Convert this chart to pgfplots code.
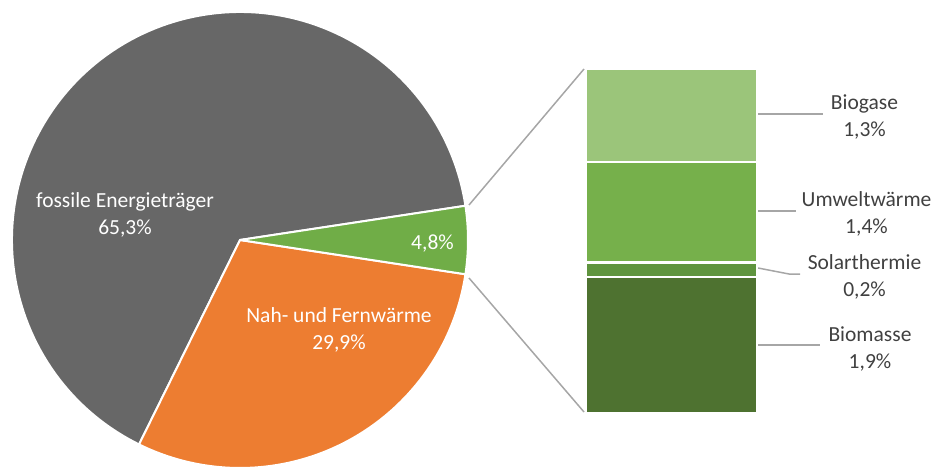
\documentclass[border=0pt]{standalone}
\usepackage{fontspec}
\setmainfont{Carlito}
\usepackage{pgfplots}
\pgfplotsset{compat=1.18}
\definecolor{fossgray}{RGB}{103,103,103}
\definecolor{nahorange}{RGB}{237,125,49}
\definecolor{erngreen}{RGB}{112,173,71}
\definecolor{biogas}{RGB}{155,197,122}
\definecolor{umwelt}{RGB}{118,176,75}
\definecolor{solar}{RGB}{95,148,62}
\definecolor{biomasse}{RGB}{78,114,48}
\definecolor{linegray}{RGB}{166,166,166}
\definecolor{labeltext}{RGB}{64,64,64}
\tikzset{lbl/.style={font=\fontsize{21.5}{27}\selectfont, align=center, inner sep=0pt}}

\begin{document}
\begin{tikzpicture}
% shares of the pie (percent)
\pgfmathsetmacro\pfoss{65.3}
\pgfmathsetmacro\pnah{29.9}
\pgfmathsetmacro\pern{4.8}
\pgfmathsetmacro\aA{\pern*3.6/2}
\pgfmathsetmacro\aB{-\aA-\pnah*3.6}
\pgfmathsetmacro\aC{\aB-\pfoss*3.6}

\begin{axis}[
  at={(0,0)}, anchor=south west,
  width=936pt, height=470pt, scale only axis,
  xmin=0, xmax=936, ymin=0, ymax=470, y dir=reverse,
  hide axis, clip=false,
]
% pie wedges
\filldraw[fill=fossgray, draw=white, line width=2pt, line join=round]
  (axis cs:240,240) -- ++(\aB:228pt) arc[start angle=\aB, end angle=\aC, radius=228pt] -- cycle;
\filldraw[fill=nahorange, draw=white, line width=2pt, line join=round]
  (axis cs:240,240) -- ++(-\aA:228pt) arc[start angle=-\aA, end angle=\aB, radius=228pt] -- cycle;
\filldraw[fill=erngreen, draw=white, line width=2pt, line join=round]
  (axis cs:240,240) -- ++(\aA:228pt) arc[start angle=\aA, end angle=-\aA, radius=228pt] -- cycle;

% connectors pie -> bar
\addplot[linegray, line width=1.5pt] coordinates {(469,205) (584,69)};
\addplot[linegray, line width=1.5pt] coordinates {(469,278) (584,412)};

% leader lines
\addplot[linegray, line width=1.5pt] coordinates {(758,114) (823,114)};
\addplot[linegray, line width=1.5pt] coordinates {(758,211) (796,211)};
\addplot[linegray, line width=1.5pt] coordinates {(758,268) (789,274) (800,274)};
\addplot[linegray, line width=1.5pt] coordinates {(758,345) (820,345)};

% pie labels
\node[lbl, text=white] at (axis cs:125,215) {fossile Energieträger\\65,3\%};
\node[lbl, text=white] at (axis cs:432.5,244) {4,8\%};
\node[lbl, text=white] at (axis cs:339,330) {Nah- und Fernwärme\\29,9\%};

% bar labels
\node[lbl, text=labeltext] at (axis cs:864.5,116.5) {Biogase\\1,3\%};
\node[lbl, text=labeltext] at (axis cs:866.5,213.5) {Umweltwärme\\1,4\%};
\node[lbl, text=labeltext] at (axis cs:864.5,276.5) {Solarthermie\\0,2\%};
\node[lbl, text=labeltext] at (axis cs:870,349) {Biomasse\\1,9\%};
\end{axis}

% breakdown of the 4,8 % slice
\begin{axis}[
  at={(586pt,57pt)}, anchor=south west,
  width=171pt, height=344pt, scale only axis,
  xmin=-0.5, xmax=0.5, ymin=0, ymax=4.8,
  hide axis, clip=false,
  ybar stacked, bar width=171pt,
  every axis plot/.append style={draw=white, line width=2.4pt},
]
\addplot[fill=biomasse] coordinates {(0,1.9)};
\addplot[fill=solar] coordinates {(0,0.2)};
\addplot[fill=umwelt] coordinates {(0,1.4)};
\addplot[fill=biogas] coordinates {(0,1.3)};
\end{axis}
\pgfresetboundingbox
\useasboundingbox (0,0) rectangle (936pt,470pt);
\end{tikzpicture}
\end{document}
